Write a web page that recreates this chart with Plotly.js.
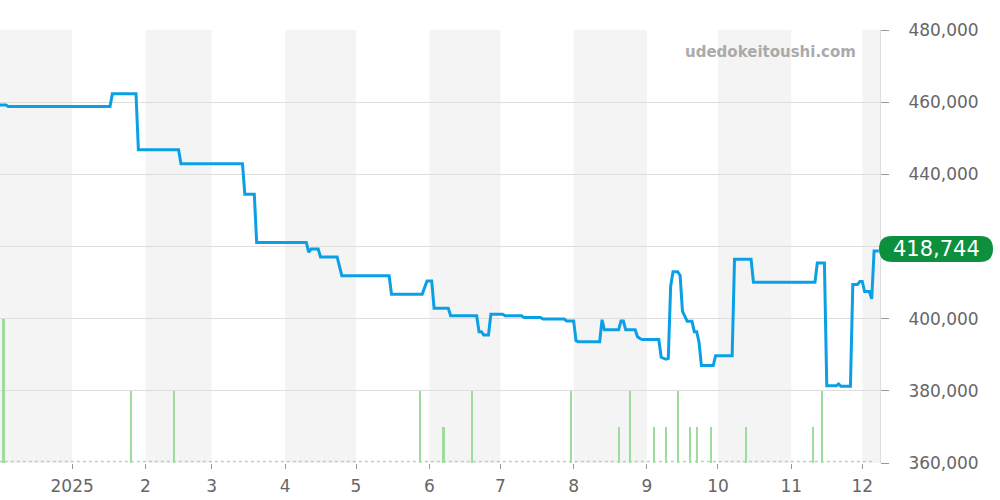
<!DOCTYPE html>
<html>
<head>
<meta charset="utf-8">
<script src="https://cdn.plot.ly/plotly-3.0.1.min.js"></script>
<style>html,body{margin:0;padding:0;background:#fff;}#chart{width:1000px;height:500px;}</style>
</head>
<body>
<div id="chart"></div>
<script>
// Price series (step-like line)
const priceDates = [
 '2024-12-01','2024-12-04','2024-12-05','2025-01-17','2025-01-18','2025-01-28','2025-01-29','2025-02-15','2025-02-16','2025-03-14',
 '2025-03-15','2025-03-19','2025-03-20','2025-04-10','2025-04-11','2025-04-12','2025-04-15','2025-04-16','2025-04-23','2025-04-25',
 '2025-05-15','2025-05-16','2025-05-29','2025-05-31','2025-06-02','2025-06-03','2025-06-09','2025-06-10','2025-06-21','2025-06-22',
 '2025-06-23','2025-06-24','2025-06-26','2025-06-27','2025-07-02','2025-07-03','2025-07-10','2025-07-11','2025-07-18','2025-07-19',
 '2025-07-28','2025-07-29','2025-08-01','2025-08-02','2025-08-03','2025-08-12','2025-08-13','2025-08-14','2025-08-20','2025-08-21',
 '2025-08-22','2025-08-23','2025-08-27','2025-08-28','2025-08-29','2025-08-30','2025-09-06','2025-09-07','2025-09-09','2025-09-10',
 '2025-09-11','2025-09-12','2025-09-14','2025-09-15','2025-09-16','2025-09-17','2025-09-18','2025-09-20','2025-09-21','2025-09-22',
 '2025-09-23','2025-09-24','2025-09-29','2025-09-30','2025-10-07','2025-10-08','2025-10-15','2025-10-16','2025-11-11','2025-11-12',
 '2025-11-15','2025-11-16','2025-11-20','2025-11-21','2025-11-22','2025-11-26','2025-11-27','2025-11-29','2025-11-30','2025-12-01',
 '2025-12-02','2025-12-04','2025-12-05','2025-12-06','2025-12-08'
];
const prices = [
 459200,459200,458800,458800,462300,462300,446800,446800,442900,442900,
 434500,434500,421100,421100,418400,419300,419300,417100,417100,411900,
 411900,406800,406800,410450,410450,402900,402900,400800,400800,396400,
 396400,395500,395500,401200,401200,400800,400800,400300,400300,399900,
 399900,399350,399350,393900,393600,393600,399700,396900,396900,399350,
 399350,396900,396900,395000,394500,394200,394200,389300,388750,389000,
 409000,413000,413000,412000,402000,400500,399300,399300,396400,396400,
 393500,387000,387000,389700,389700,416500,416500,410100,410100,415400,
 415400,381400,381400,381900,381250,381250,409500,409500,410300,410300,
 407500,407500,405500,418744,418744
];

// Volume (count) bars
const volumeDates = ['2024-12-03','2025-01-26','2025-02-13','2025-05-28','2025-06-07','2025-06-19','2025-07-31','2025-08-20','2025-08-25',
 '2025-09-04','2025-09-09','2025-09-14','2025-09-19','2025-09-22','2025-09-28','2025-10-13','2025-11-10','2025-11-14'];
const volumes = [4,2,2,2,1,2,2,1,2,1,1,2,1,1,1,1,1,2];
const baselineDates = ['2024-12-01','2025-12-05'];

// Axis ticks
const tickDates = ['2025-01-01','2025-02-01','2025-03-01','2025-04-01','2025-05-01','2025-06-01','2025-07-01','2025-08-01','2025-09-01','2025-10-01','2025-11-01','2025-12-01'];
const tickLabels = ['2025','2','3','4','5','6','7','8','9','10','11','12'];
const yTicks = [360000,380000,400000,420000,440000,460000,480000];
// 420,000 is hidden behind the last-value label in the reference
const yTickLabels = ['360,000','380,000','400,000','','440,000','460,000','480,000'];

// Shaded months (start, end)
const shadedMonths = [
 ['2024-12-01','2025-01-01'],['2025-02-01','2025-03-01'],['2025-04-01','2025-05-01'],
 ['2025-06-01','2025-07-01'],['2025-08-01','2025-09-01'],['2025-10-01','2025-11-01'],['2025-12-01','2026-01-01']
];

const xRange = ['2024-12-01 12:00','2025-12-08 12:00'];
const yRange = [360000,480000];
const W = 1000, H = 500, M = {l:0, r:120, t:30, b:37};
const plotW = W - M.l - M.r, plotH = H - M.t - M.b;

const shapes = shadedMonths.map(m => ({
  type:'rect', xref:'x', yref:'paper', x0:m[0], x1:m[1], y0:0, y1:1,
  fillcolor:'#f4f4f4', line:{width:0}, layer:'below'
}));

// Rounded label box for last value
const lastVal = prices[prices.length-1];
const uPerPx = (yRange[1]-yRange[0]) / plotH;
const bx0 = (879 - M.l)/plotW, bx1 = (993 - M.l)/plotW;
const hh = 13, r = 13;
const yc = lastVal + 2*uPerPx;
const rx = r/plotW, hy = hh*uPerPx;
const path = `M ${bx0+rx} ${yc+hy} L ${bx1-rx} ${yc+hy} Q ${bx1} ${yc+hy} ${bx1} ${yc} Q ${bx1} ${yc-hy} ${bx1-rx} ${yc-hy} L ${bx0+rx} ${yc-hy} Q ${bx0} ${yc-hy} ${bx0} ${yc} Q ${bx0} ${yc+hy} ${bx0+rx} ${yc+hy} Z`;
shapes.push({type:'path', xref:'paper', yref:'y', path:path, fillcolor:'#0c903d', line:{width:0}, layer:'above'});

const traces = [
  {
    x:baselineDates, y:[0.04,0.04], yaxis:'y2', type:'scatter', mode:'lines',
    line:{color:'#a8dca8', width:1.5, dash:'dot'}, hoverinfo:'skip', showlegend:false
  },
  {
    x:volumeDates, y:volumes, yaxis:'y2', type:'bar', width:0.9*86400000,
    marker:{color:'#9fdb9f', line:{width:0}}, showlegend:false
  },
  {
    x:priceDates, y:prices, type:'scatter', mode:'lines',
    line:{color:'#0ba0e6', width:3}, showlegend:false
  }
];

const layout = {
  width:W, height:H, margin:M,
  paper_bgcolor:'#ffffff', plot_bgcolor:'#ffffff',
  font:{family:'DejaVu Sans, sans-serif', color:'#666', size:17},
  showlegend:false,
  xaxis:{
    type:'date', range:xRange, tickmode:'array', tickvals:tickDates, ticktext:tickLabels,
    showgrid:false, zeroline:false, showline:false, ticks:'outside', ticklen:5, tickcolor:'#999',
    ticklabelstandoff:3, tickfont:{size:17, color:'#666'}
  },
  yaxis:{
    side:'right', range:yRange, tickmode:'array', tickvals:yTicks, ticktext:yTickLabels,
    showgrid:true, gridcolor:'#dddddd', zeroline:false, showline:true, linecolor:'#dddddd',
    ticks:'outside', ticklen:8, tickcolor:'#999', ticklabelstandoff:16,
    tickfont:{size:17, color:'#666'}
  },
  yaxis2:{overlaying:'y', range:[0,12], visible:false, showgrid:false},
  bargap:0,
  shapes:shapes,
  annotations:[
    {xref:'paper', yref:'paper', x:(858-M.l)/plotW, y:1-(52-M.t)/plotH, xanchor:'right', yanchor:'middle',
     text:'<b>udedokeitoushi.com</b>', showarrow:false, font:{size:15, color:'#aaaaaa', family:'DejaVu Sans, sans-serif'}},
    {xref:'paper', yref:'y', x:(bx0+bx1)/2, y:yc, xanchor:'center', yanchor:'middle',
     text:lastVal.toLocaleString('en-US'), showarrow:false, font:{size:21, color:'#ffffff', family:'DejaVu Sans, sans-serif'}}
  ]
};

Plotly.newPlot('chart', traces, layout, {staticPlot:true, displayModeBar:false});
</script>
</body>
</html>
